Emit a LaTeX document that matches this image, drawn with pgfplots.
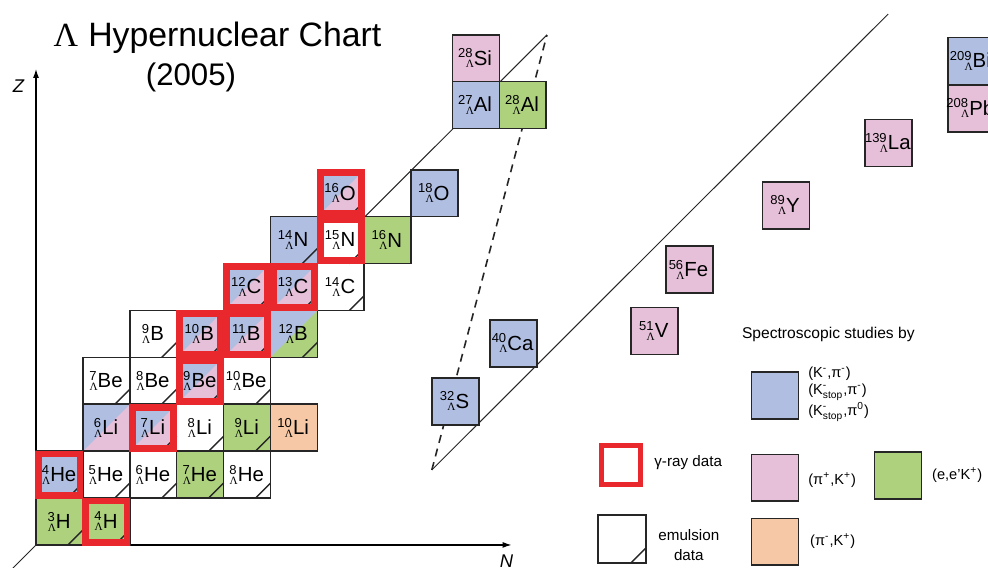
\documentclass[border=0pt]{standalone}
\usepackage{fontspec}
\setmainfont{Liberation Sans}
\newfontfamily\lamfont{Liberation Serif}
\usepackage{amsmath}
\usepackage{pgfplots}
\usepackage{pgfplotstable}
\pgfplotsset{compat=1.18}
\usetikzlibrary{arrows.meta}

\definecolor{cblue}{HTML}{B0BEE2}
\definecolor{cpink}{HTML}{E6BFD8}
\definecolor{cgreen}{HTML}{AED17E}
\definecolor{corange}{HTML}{F6C8A6}
\definecolor{cred}{HTML}{E8282C}
\definecolor{cline}{HTML}{262626}

% square cell, half side = mark size
\pgfdeclareplotmark{cell}{%
  \pgfpathrectangle{\pgfqpoint{-\pgfplotmarksize}{-\pgfplotmarksize}}{\pgfqpoint{2\pgfplotmarksize}{2\pgfplotmarksize}}%
  \pgfusepathqfillstroke}
% split cell: blue upper left, fill colour lower right
\pgfdeclareplotmark{split}{%
  \pgfpathrectangle{\pgfqpoint{-\pgfplotmarksize}{-\pgfplotmarksize}}{\pgfqpoint{2\pgfplotmarksize}{2\pgfplotmarksize}}%
  \pgfusepathqfill
  \begin{pgfscope}\pgfsetfillcolor{cblue}%
  \pgfpathmoveto{\pgfqpoint{-\pgfplotmarksize}{-\pgfplotmarksize}}%
  \pgfpathlineto{\pgfqpoint{-\pgfplotmarksize}{\pgfplotmarksize}}%
  \pgfpathlineto{\pgfqpoint{\pgfplotmarksize}{\pgfplotmarksize}}%
  \pgfpathclose\pgfusepathqfill
  \end{pgfscope}%
  \pgfpathrectangle{\pgfqpoint{-\pgfplotmarksize}{-\pgfplotmarksize}}{\pgfqpoint{2\pgfplotmarksize}{2\pgfplotmarksize}}%
  \pgfusepathqstroke}
% emulsion corner stroke
\pgfdeclareplotmark{emul}{%
  \pgfpathmoveto{\pgfpoint{\pgfplotmarksize-7.5pt}{-\pgfplotmarksize}}%
  \pgfpathlineto{\pgfpoint{\pgfplotmarksize}{-\pgfplotmarksize+7.5pt}}%
  \pgfusepathqstroke}
% open frame (gamma-ray)
\pgfdeclareplotmark{frame}{%
  \pgfpathrectangle{\pgfqpoint{-\pgfplotmarksize}{-\pgfplotmarksize}}{\pgfqpoint{2\pgfplotmarksize}{2\pgfplotmarksize}}%
  \pgfusepathqstroke}

% label "A/El" -> ^A_Lambda El
\newcommand\hyp[1]{\expandafter\hypx#1\relax}
\def\hypx#1/#2\relax{%
  \sbox0{\raisebox{3.7pt}{\fontsize{6.5}{7}\selectfont#1}}%
  \sbox2{\raisebox{-1.3pt}{\fontsize{5.6}{6}\selectfont\lamfont Λ}}%
  \ifdim\wd0<\wd2 \makebox[\wd2][r]{\usebox0}\else\usebox0\fi
  \llap{\usebox2\kern-0.6pt}\kern0.6pt{\fontsize{10.2}{12}\selectfont#2}}

\pgfplotsset{
  hcell/.style={only marks, mark=cell, mark size=11.725pt,
    mark options={fill=#1, draw=cline, line width=0.8pt},
    point meta=explicit symbolic,
    nodes near coords={\hyp{\pgfplotspointmeta}},
    every node near coord/.append style={anchor=center, inner sep=0pt, xshift=-0.4pt, text=black}},
  hsplit/.style={hcell=#1, mark=split},
  lbox/.style={only marks, mark=cell, mark size=11.725pt,
    mark options={fill=#1, draw=cline, line width=0.8pt}},
}

% cell centres in (N-1, Z-1) grid units; heavy ones sit off the grid
\pgfplotstableread{
x y lab
1.5 1.5 5/He
2.5 1.5 6/He
4.5 1.5 8/He
3.5 2.5 8/Li
1.5 3.5 7/Be
2.5 3.5 8/Be
4.5 3.5 10/Be
2.5 4.5 9/B
6.5 5.5 14/C
6.5 6.5 15/N
}\whitecells
\pgfplotstableread{
x y lab
0.5 0.5 3/H
1.5 0.5 4/H
3.5 1.5 7/He
4.5 2.5 9/Li
7.5 6.5 16/N
10.38 9.38 28/Al
}\greencells
\pgfplotstableread{
x y lab
0.5 1.5 4/He
5.5 6.5 14/N
8.5 7.5 18/O
9.38 9.38 27/Al
8.94 3.06 32/S
10.18 4.30 40/Ca
19.94 10.32 209/Bi
}\bluecells
\pgfplotstableread{
x y lab
9.38 10.38 28/Si
13.19 4.56 51/V
13.93 5.87 56/Fe
15.99 7.24 89/Y
18.18 8.57 139/La
19.94 9.31 208/Pb
}\pinkcells
\pgfplotstableread{
x y lab
5.5 2.5 10/Li
}\orangecells
\pgfplotstableread{
x y lab
1.5 2.5 6/Li
2.5 2.5 7/Li
3.5 3.5 9/Be
3.5 4.5 10/B
4.5 4.5 11/B
4.5 5.5 12/C
5.5 5.5 13/C
6.5 7.5 16/O
}\bluepinkcells
\pgfplotstableread{
x y lab
5.5 4.5 12/B
}\bluegreencells

\begin{document}
\begin{tikzpicture}
\begin{axis}[
  x=23.45pt, y=23.45pt,
  xmin=-0.7676, xmax=20.299, ymin=-0.4904, ymax=11.620,
  hide axis, clip=false, enlargelimits=false,
]
% guide lines
\addplot[cline, line width=0.5pt] coordinates {(-0.6,-0.6) (10.895,10.875)};
\addplot[cline, line width=0.5pt] coordinates {(8.44,1.60) (18.17,11.32)};
\addplot[cline, line width=0.8pt, dash pattern=on 4pt off 3pt] coordinates {(8.44,1.60) (10.895,10.875)};
% axes
\addplot[black, line width=0.6pt, -{Latex[length=4.5pt,width=3pt]}] coordinates {(0,0) (0,10.15)};
\addplot[black, line width=0.6pt, -{Latex[length=4.5pt,width=3pt]}] coordinates {(0,0) (10.14,0)};

% cells
\addplot[hcell=white] table[x=x,y=y,meta=lab] {\whitecells};
\addplot[hcell=cgreen] table[x=x,y=y,meta=lab] {\greencells};
\addplot[hcell=cblue] table[x=x,y=y,meta=lab] {\bluecells};
\addplot[hcell=cpink] table[x=x,y=y,meta=lab] {\pinkcells};
\addplot[hcell=corange] table[x=x,y=y,meta=lab] {\orangecells};
\addplot[hsplit=cpink] table[x=x,y=y,meta=lab] {\bluepinkcells};
\addplot[hsplit=cgreen] table[x=x,y=y,meta=lab] {\bluegreencells};

% emulsion data
\addplot[only marks, mark=emul, mark size=11.725pt, mark options={draw=cline, line width=0.7pt}] coordinates {
(0.5,0.5) (1.5,0.5) (0.5,1.5) (1.5,1.5) (2.5,1.5) (3.5,1.5) (4.5,1.5)
(2.5,2.5) (3.5,2.5) (4.5,2.5) (1.5,3.5) (2.5,3.5) (3.5,3.5) (4.5,3.5)
(2.5,4.5) (3.5,4.5) (4.5,4.5) (5.5,4.5) (4.5,5.5) (5.5,5.5) (6.5,5.5)
(5.5,6.5) (6.5,6.5) (6.5,7.5)};
% gamma-ray data
\addplot[only marks, mark=frame, mark size=10.3pt, mark options={draw=cred, line width=3.4pt, line join=miter}] coordinates {
(1.5,0.5) (0.5,1.5) (2.5,2.5) (3.5,3.5) (3.5,4.5) (4.5,4.5) (4.5,5.5) (5.5,5.5) (6.5,6.5) (6.5,7.5)};

% legend boxes
\addplot[lbox=cblue] coordinates {(15.757,3.192)};
\addplot[lbox=cpink] coordinates {(15.757,1.433)};
\addplot[lbox=corange] coordinates {(15.757,0.068)};
\addplot[lbox=cgreen] coordinates {(18.38,1.486)};
\addplot[lbox=white, mark size=12pt] coordinates {(12.495,0.128)};
\addplot[only marks, mark=emul, mark size=12pt, mark options={draw=cline, line width=0.7pt}] coordinates {(12.495,0.128)};
\addplot[only marks, mark=frame, mark size=9.75pt, mark options={draw=cred, line width=2.5pt, line join=miter}] coordinates {(12.473,1.695)};

% titles and labels
\node[anchor=base, inner sep=0pt, font=\fontsize{16.9}{19}\selectfont] at (axis cs:3.87,10.62) {{\lamfont Λ}\hspace{0.3em}Hypernuclear Chart};
\node[anchor=base, inner sep=0pt, font=\fontsize{15.6}{18}\selectfont] at (axis cs:3.305,9.787) {(2005)};
\node[font=\fontsize{9.2}{11}\selectfont\itshape] at (axis cs:-0.373,9.776) {Z};
\node[font=\fontsize{9.2}{11}\selectfont\itshape] at (axis cs:10.03,-0.352) {N};

\node[anchor=base west, inner sep=0pt, font=\fontsize{7.8}{9}\selectfont] at (axis cs:15.047,4.392) {Spectroscopic studies by};
\node[anchor=west, inner sep=0pt, font=\fontsize{7.3}{9}\selectfont] at (axis cs:16.46,3.66) {(K\textsuperscript{-},π\textsuperscript{-})};
\node[anchor=west, inner sep=0pt, font=\fontsize{7.3}{9}\selectfont] at (axis cs:16.46,3.262) {(K$^{\text{-}}_{\text{stop}}$,π\textsuperscript{-})};
\node[anchor=west, inner sep=0pt, font=\fontsize{7.3}{9}\selectfont] at (axis cs:16.46,2.84) {(K$^{\text{-}}_{\text{stop}}$,π$^{\text{0}}$)};
\node[anchor=west, inner sep=0pt, font=\fontsize{7.3}{9}\selectfont] at (axis cs:16.46,1.386) {(π\textsuperscript{+},K\textsuperscript{+})};
\node[anchor=west, inner sep=0pt, font=\fontsize{7.3}{9}\selectfont] at (axis cs:19.10,1.493) {(e,e'K\textsuperscript{+})};
\node[anchor=west, inner sep=0pt, font=\fontsize{7.3}{9}\selectfont] at (axis cs:16.50,0.092) {(π\textsuperscript{-},K\textsuperscript{+})};
\node[anchor=west, inner sep=0pt, font=\fontsize{7.6}{9}\selectfont] at (axis cs:13.177,1.748) {γ-ray data};
\node[font=\fontsize{7.6}{9}\selectfont] at (axis cs:13.92,0.213) {emulsion};
\node[font=\fontsize{7.6}{9}\selectfont] at (axis cs:13.92,-0.213) {data};
\end{axis}
\pgfresetboundingbox
\path[use as bounding box] (current axis.south west) rectangle (current axis.north east);
\end{tikzpicture}
\end{document}
